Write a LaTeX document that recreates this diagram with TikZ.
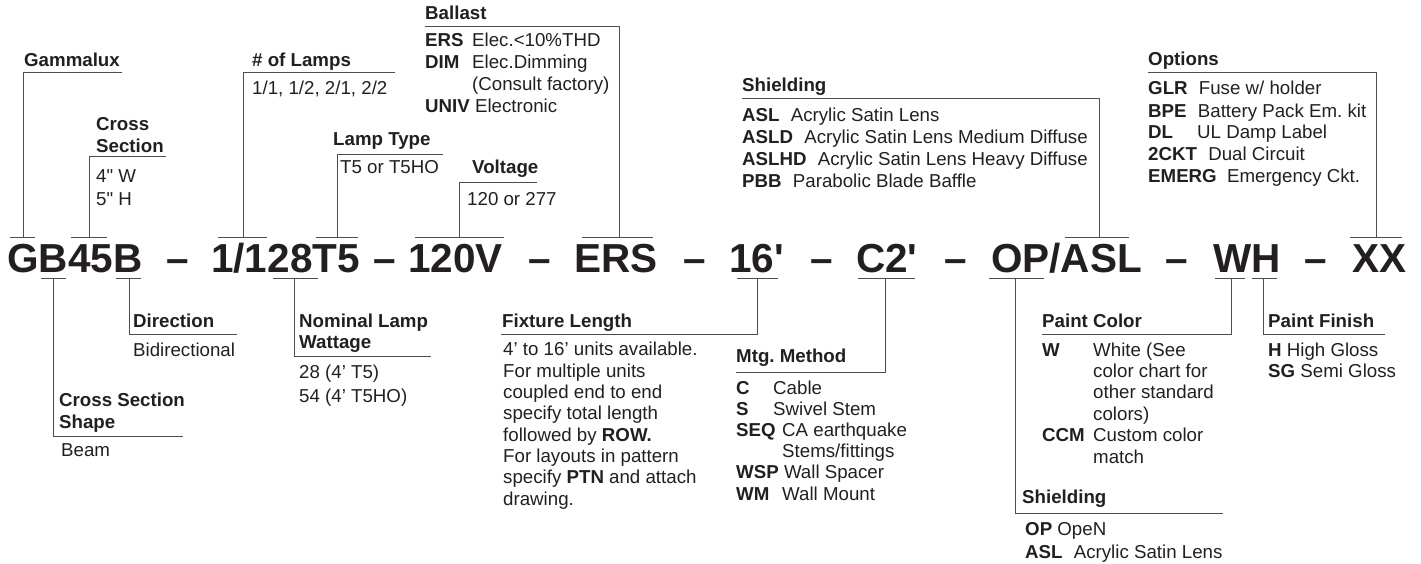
\documentclass[tikz,border=0pt]{standalone}
\usepackage{fontspec}
\setmainfont{Liberation Sans}
\newfontfamily\codefont{Liberation Sans}[Ligatures=TeXOff]
\usepackage{tikz}
\definecolor{leadgray}{HTML}{4D4D4D}
\definecolor{inkblack}{HTML}{231F20}
\frenchspacing

\begin{document}
\begin{tikzpicture}[x=1pt, y=-1pt,
    txt/.style={anchor=base west, inner sep=0pt, align=left, text=inkblack,
      font=\fontsize{18.7}{#1}\selectfont},
    txt/.default=21.5,
    head/.style={anchor=base west, inner sep=0pt, align=left, text=inkblack,
      font=\fontsize{18.7}{#1}\selectfont\bfseries},
    head/.default=22,
    code/.style={anchor=base west, inner sep=0pt, text=inkblack,
      font=\codefont\bfseries\fontsize{40.5}{40.5}\selectfont},
    lead/.style={draw=leadgray, line width=1pt}]
    \useasboundingbox (0,0) rectangle (1421,564);
    % Order code
    \node[code] (cFix)  at (7.2,272)  {GB45B};
    \node[code] (cLamp) at (211,272)  {1/128T5};
    \node[code] (cVolt) at (408,272)  {120V};
    \node[code] (cBal)  at (574,272)  {ERS};
    \node[code] (cLen)  at (729,272)  {16'};
    \node[code] (cMtg)  at (856,272)  {C2'};
    \node[code] (cShd)  at (991,272)  {OP/ASL};
    \node[code] (cPnt)  at (1213,272) {WH};
    \node[code] (cOpt)  at (1352,272) {XX};
    \foreach \dx [count=\i] in {166,373,528,683,810,944,1165,1304} {
      \node[code] (dash\i) at (\dx,272) {–};
    }
    % Leaders above the code
    \draw[lead] (10,237) -- (35,237) (23,237) |- (122,73);
    \draw[lead] (71,237) -- (107,237) (89,237) |- (166,157);
    \draw[lead] (218,237) -- (267,237) (243,237) |- (395,73);
    \draw[lead] (316,237) -- (358,237) (337,237) |- (443,155);
    \draw[lead] (415,237) -- (504,237) (459,237) |- (537,183);
    \draw[lead] (582,237) -- (653,237) (619,237) |- (425,27);
    \draw[lead] (1065,237) -- (1129,237) (1099,237) |- (742,99);
    \draw[lead] (1350,237) -- (1402,237) (1376,237) |- (1148,73);
    % Leaders below the code
    \draw[lead] (41,278) -- (66,278) (53,278) |- (183,436);
    \draw[lead] (116,278) -- (141,278) (129,278) |- (237,334);
    \draw[lead] (273,278) -- (318,278) (294,278) |- (431,356);
    \draw[lead] (737,278) -- (778,278) (757,278) |- (501,334);
    \draw[lead] (858,278) -- (915,278) (885,278) |- (736,372);
    \draw[lead] (989,278) -- (1044,278) (1015,278) |- (1223,513);
    \draw[lead] (1215,278) -- (1245,278) (1231,278) |- (1042,334);
    \draw[lead] (1252,278) -- (1277,278) (1263,278) |- (1385,334);
    % Top labels (multi-line nodes sit on their last baseline)
    \node[head] (hGam) at (24,67) {Gammalux};
    \node[head] (hCross) at (96,153) {Cross\\Section};
    \node[txt=22] (tCross) at (96,205) {\codefont 4" W\\\codefont 5" H};
    \node[head] (hLamps) at (252,67) {\# of Lamps};
    \node[txt] (tLamps) at (252,95) {1/1, 1/2, 2/1, 2/2};
    \node[head] (hType) at (333,146) {Lamp Type};
    \node[txt] (tType) at (340,174) {T5 or T5HO};
    \node[head] (hVolt) at (472,174) {Voltage};
    \node[txt] (tVolt) at (467,206) {120 or 277};
    \node[head] (hBal) at (425,20) {Ballast};
    \node[txt=22] (tBal) at (425,113) {\makebox[47pt][l]{\textbf{ERS}}Elec.<10\%THD\\
      \makebox[47pt][l]{\textbf{DIM}}Elec.Dimming\\
      \hspace*{47pt}(Consult factory)\\
      \textbf{UNIV} Electronic};
    \node[head] (hShdTop) at (742,92) {Shielding};
    \node[txt=22] (tShdTop) at (742,188) {\textbf{ASL}\hspace{.6em}Acrylic Satin Lens\\
      \textbf{ASLD}\hspace{.6em}Acrylic Satin Lens Medium Diffuse\\
      \textbf{ASLHD}\hspace{.6em}Acrylic Satin Lens Heavy Diffuse\\
      \textbf{PBB}\hspace{.6em}Parabolic Blade Baffle};
    \node[head] (hOpt) at (1148,66) {Options};
    \node[txt=22] (tOpt) at (1148,183) {\textbf{GLR}\hspace{.6em}Fuse w/ holder\\
      \textbf{BPE}\hspace{.6em}Battery Pack Em. kit\\
      \makebox[49pt][l]{\textbf{DL}}UL Damp Label\\
      \textbf{2CKT}\hspace{.6em}Dual Circuit\\
      \textbf{EMERG}\hspace{.55em}Emergency Ckt.};
    % Bottom labels
    \node[head] (hShape) at (59,428) {Cross Section\\Shape};
    \node[txt] (tShape) at (61,456) {Beam};
    \node[head] (hDir) at (133,327) {Direction};
    \node[txt] (tDir) at (133,356) {Bidirectional};
    \node[head=21] (hWatt) at (299,348) {Nominal Lamp\\Wattage};
    \node[txt=24] (tWatt) at (299,402) {28 (4' T5)\\54 (4' T5HO)};
    \node[head] (hLen) at (502,327) {Fixture Length};
    \node[txt=21.3] (tLen) at (503,505) {4' to 16' units available.\\
      For multiple units\\
      coupled end to end\\
      specify total length\\
      followed by \textbf{ROW.}\\
      For layouts in pattern\\
      specify \textbf{PTN} and attach\\
      drawing.};
    \node[head] (hMtg) at (736,362) {Mtg. Method};
    \node[txt=21.2] (tMtg) at (736,500) {\makebox[37pt][l]{\textbf{C}}Cable\\
      \makebox[37pt][l]{\textbf{S}}Swivel Stem\\
      \makebox[46pt][l]{\textbf{SEQ}}CA earthquake\\
      \hspace*{46pt}Stems/fittings\\
      \textbf{WSP} Wall Spacer\\
      \makebox[46pt][l]{\textbf{WM}}Wall Mount};
    \node[head] (hPnt) at (1042,327) {Paint Color};
    \node[txt=21.4] (tPnt) at (1042,463) {\makebox[51pt][l]{\textbf{W}}White (See\\
      \hspace*{51pt}color chart for\\
      \hspace*{51pt}other standard\\
      \hspace*{51pt}colors)\\
      \makebox[51pt][l]{\textbf{CCM}}Custom color\\
      \hspace*{51pt}match};
    \node[head] (hShdBot) at (1022,503) {Shielding};
    \node[txt=23] (tShdBot) at (1025,558) {\textbf{OP} OpeN\\
      \textbf{ASL}\hspace{.6em}Acrylic Satin Lens};
    \node[head] (hFin) at (1268,327) {Paint Finish};
    \node[txt=21] (tFin) at (1268,377) {\textbf{H} High Gloss\\
      \textbf{SG} Semi Gloss};
\end{tikzpicture}
\end{document}
